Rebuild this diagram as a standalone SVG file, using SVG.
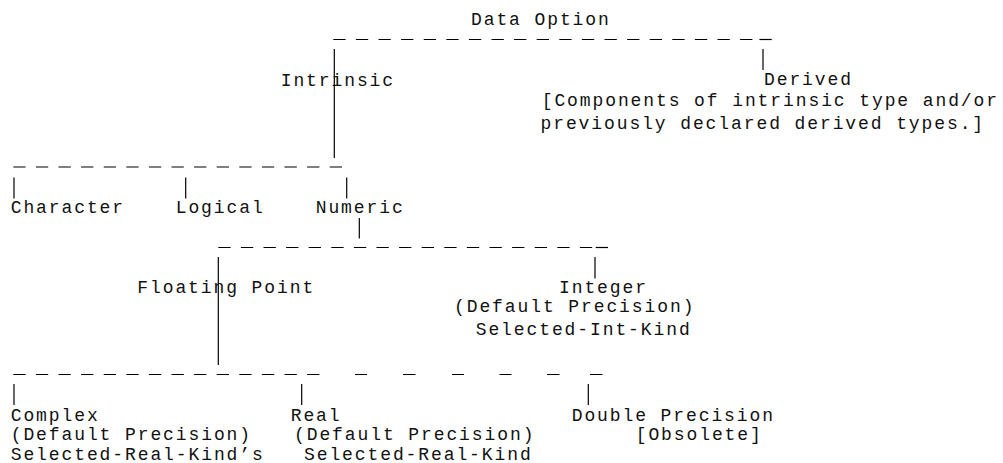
<svg xmlns="http://www.w3.org/2000/svg" width="1003" height="463" viewBox="0 0 1003 463">
  <style>
    .lbl { font-family: "Liberation Mono", "DejaVu Sans Mono", monospace; font-size: 18px; letter-spacing: 1.9px; fill: #111; }
    .bus { stroke: #000; stroke-width: 1.2; fill: none; }
    .dash { stroke-dasharray: 12.3 10.3; }
    .bar { stroke: #000; stroke-width: 1.2; fill: none; }
  </style>
  <rect width="1003" height="463" fill="#fff"/>

  <!-- tree connectors: dashed buses and vertical drops -->
  <g id="connectors">
    <!-- Data Option bus -->
    <line class="bus dash" x1="333.3" y1="39.5" x2="752.4" y2="39.5"/>
    <line class="bus" x1="759.4" y1="39.5" x2="771.7" y2="39.5"/>
    <line class="bar" x1="334.3" y1="49" x2="334.3" y2="158"/>
    <line class="bar" x1="763" y1="49" x2="763" y2="70"/>

    <!-- Intrinsic bus -->
    <line class="bus dash" x1="13.3" y1="167" x2="342" y2="167"/>
    <line class="bar" x1="14" y1="177.5" x2="14" y2="198.5"/>
    <line class="bar" x1="185.7" y1="177.5" x2="185.7" y2="198.5"/>
    <line class="bar" x1="346.7" y1="177.5" x2="346.7" y2="198.5"/>

    <!-- Numeric bus -->
    <line class="bar" x1="359.3" y1="218" x2="359.3" y2="238.5"/>
    <line class="bus dash" x1="218.3" y1="247.5" x2="592.2" y2="247.5"/>
    <line class="bus" x1="595.7" y1="247.5" x2="608" y2="247.5"/>
    <line class="bar" x1="218.3" y1="257" x2="218.3" y2="365"/>
    <line class="bar" x1="595" y1="257" x2="595" y2="278.5"/>

    <!-- Floating Point bus -->
    <line class="bus dash" x1="13.3" y1="374.5" x2="319.4" y2="374.5"/>
    <path class="bus" d="M355 374.5h12M403 374.5h12.5M452 374.5h12M499.5 374.5h12M547 374.5h12.5M590 374.5h12.5"/>
    <line class="bar" x1="14" y1="384" x2="14" y2="405"/>
    <line class="bar" x1="301.7" y1="384" x2="301.7" y2="405"/>
    <line class="bar" x1="588.3" y1="384" x2="588.3" y2="405"/>
  </g>

  <g id="data-option">
    <text class="lbl" x="471" y="25">Data Option</text>
  </g>

  <g id="intrinsic">
    <text class="lbl" x="280.7" y="86">Intrinsic</text>
  </g>

  <g id="derived">
    <text class="lbl" x="764" y="85">Derived</text>
    <text class="lbl" x="541.7" y="105.5">[Components of intrinsic type and/or</text>
    <text class="lbl" x="540.5" y="128.5">previously declared derived types.]</text>
  </g>

  <g id="character">
    <text class="lbl" x="10.7" y="213">Character</text>
  </g>

  <g id="logical">
    <text class="lbl" x="175.7" y="213">Logical</text>
  </g>

  <g id="numeric">
    <text class="lbl" x="315.7" y="213">Numeric</text>
  </g>

  <g id="floating-point">
    <text class="lbl" x="137.3" y="292.7">Floating Point</text>
  </g>

  <g id="integer">
    <text class="lbl" x="559" y="292.7">Integer</text>
    <text class="lbl" x="454" y="312">(Default Precision)</text>
    <text class="lbl" x="475.7" y="335">Selected-Int-Kind</text>
  </g>

  <g id="complex">
    <text class="lbl" x="10.7" y="420.5">Complex</text>
    <text class="lbl" x="10.7" y="439.5">(Default Precision)</text>
    <text class="lbl" x="10.7" y="459.5">Selected-Real-Kind’s</text>
  </g>

  <g id="real">
    <text class="lbl" x="290.7" y="420.5">Real</text>
    <text class="lbl" x="294" y="439.5">(Default Precision)</text>
    <text class="lbl" x="304" y="459.5">Selected-Real-Kind</text>
  </g>

  <g id="double-precision">
    <text class="lbl" x="571.7" y="420.5">Double Precision</text>
    <text class="lbl" x="635.7" y="439.5">[Obsolete]</text>
  </g>
</svg>
